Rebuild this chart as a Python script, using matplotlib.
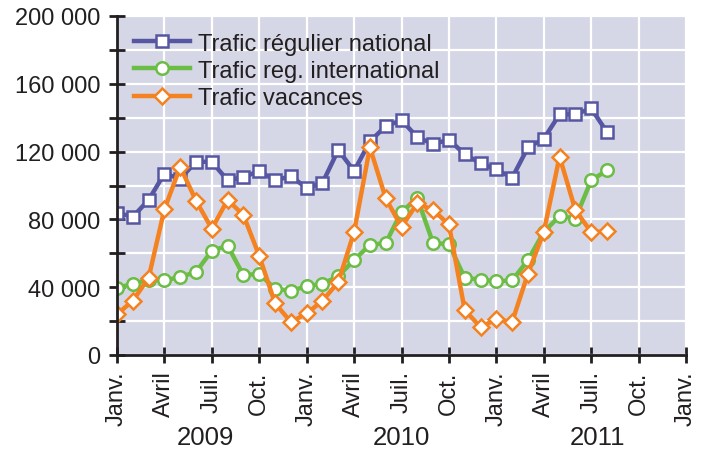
import matplotlib.pyplot as plt
from matplotlib.ticker import MultipleLocator, FuncFormatter
import numpy as np

plt.rcParams['font.family'] = ['Liberation Sans', 'DejaVu Sans']

# --- donnees (jan. 2009 -> aout 2011), mois par mois ---
regulier_national = [84000, 81500, 91500, 107000, 104000, 114000, 114000, 103000,
                     105000, 108500, 103000, 105500, 98500, 101500, 121000, 108500,
                     126000, 135000, 138500, 128500, 124500, 127000, 118500, 113000,
                     109500, 104500, 122500, 127500, 142000, 142000, 145500, 131500]
reg_international = [39500, 42000, 44500, 44000, 46000, 49000, 61500, 64500,
                     47000, 48000, 39000, 38000, 40500, 42000, 46500, 56000,
                     65000, 66000, 84500, 92500, 66000, 65500, 45500, 44500,
                     43500, 44000, 56000, 72500, 82000, 80500, 103000, 109000]
vacances = [24000, 32000, 45500, 86000, 111000, 91000, 74500, 91500,
            82500, 58500, 30500, 19500, 24500, 32000, 43000, 72500,
            122500, 92500, 75500, 89500, 85500, 77000, 26500, 16500,
            21000, 19500, 48000, 72500, 117000, 85500, 72500, 73000]
series_noms = ['Trafic régulier national', 'Trafic reg. international', 'Trafic vacances']
mois_labels = ['Janv.', 'Avril', 'Juil.', 'Oct.'] * 3 + ['Janv.']
annees = ['2009', '2010', '2011']

couleurs = ['#5656a2', '#6cbd45', '#f58220']
marqueurs = ['s', 'o', 'D']
texte = '#231f20'

fig = plt.figure(figsize=(7.02, 4.52), dpi=100)
ax = fig.add_axes([117/702, 96/452, 569/702, 339/452])
ax.set_facecolor('#d5d7e6')

mois = np.arange(len(regulier_national))
for vals, nom, c, m in zip([regulier_national, reg_international, vacances],
                           series_noms, couleurs, marqueurs):
    ms = 9 if m != 'D' else 8.5
    ax.plot(mois, vals, color=c, lw=3.2, marker=m, ms=ms, mfc='white',
            mec=c, mew=1.8, label=nom, zorder=3)

ax.set_xlim(0, 36)
ax.set_ylim(0, 200000)
ax.set_xticks(np.arange(0, 37, 3))
ax.set_xticklabels(mois_labels, rotation=90, va='top', ha='center')
ax.yaxis.set_major_locator(MultipleLocator(40000))
ax.yaxis.set_minor_locator(MultipleLocator(20000))
ax.yaxis.set_major_formatter(FuncFormatter(lambda v, p: f"{int(v):,}".replace(',', ' ')))

ax.grid(True, which='both', color='white', lw=1.6, zorder=0)
ax.set_axisbelow(True)
for s in ['top', 'right']:
    ax.spines[s].set_visible(False)
for s in ['left', 'bottom']:
    ax.spines[s].set_linewidth(2)
    ax.spines[s].set_color(texte)
    ax.spines[s].set_zorder(4)
ax.tick_params(which='both', direction='inout', length=12, width=2, color=texte,
               labelsize=17, labelcolor=texte)
ax.tick_params(axis='y', pad=6)
ax.tick_params(axis='x', pad=5)

# annees sous les mois
for i, a in enumerate(annees):
    ax.text(5.6 + 12.4 * i, -0.243, a, transform=ax.get_xaxis_transform(),
            ha='center', va='center', fontsize=18.5, color=texte)

leg = ax.legend(loc='upper left', bbox_to_anchor=(0.0, 1.0), frameon=False,
                fontsize=17, handlelength=2.4, labelspacing=0.22,
                borderaxespad=0.3, handletextpad=0.35)
for t in leg.get_texts():
    t.set_color(texte)

fig.savefig('out.png', dpi=100)
